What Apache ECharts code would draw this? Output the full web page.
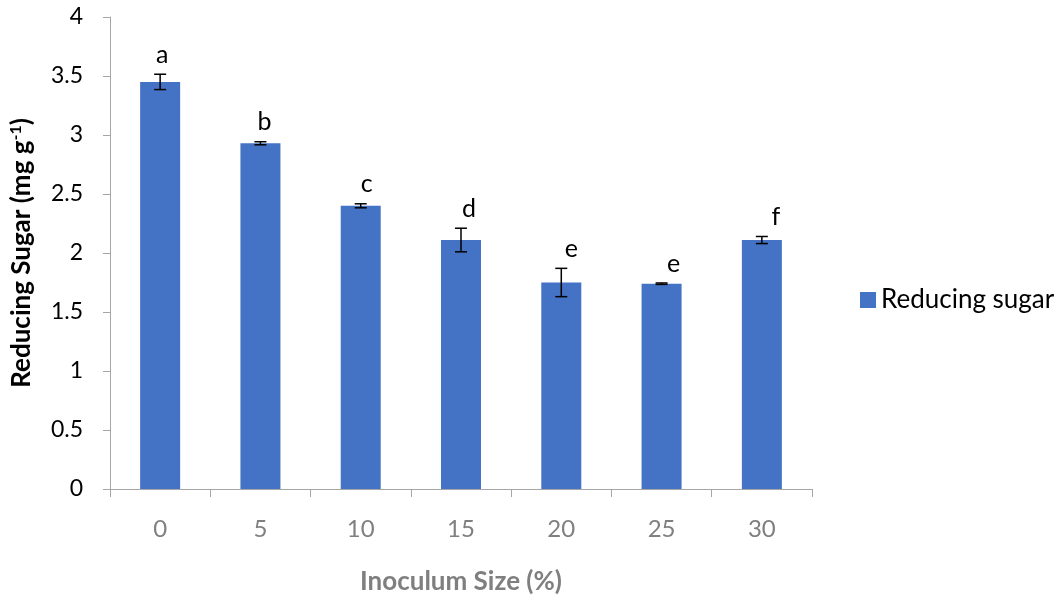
<!DOCTYPE html>
<html>
<head>
<meta charset="utf-8">
<script src="https://cdn.jsdelivr.net/npm/echarts@6/dist/echarts.min.js"></script>
<style>html,body{margin:0;padding:0;background:#fff}#c{width:1060px;height:600px}</style>
</head>
<body>
<div id="c"></div>
<script>
const categories = ['0', '5', '10', '15', '20', '25', '30'];
const reducingSugar = [3.45, 2.93, 2.40, 2.11, 1.75, 1.74, 2.11];
const errors = [0.065, 0.013, 0.017, 0.10, 0.12, 0.006, 0.03];
const letters = ['a', 'b', 'c', 'd', 'e', 'e', 'f'];
const yTicks = [0, 0.5, 1, 1.5, 2, 2.5, 3, 3.5, 4];

const FONT = 'Lato, "Open Sans", sans-serif';
const chart = echarts.init(document.getElementById('c'));

const errData = reducingSugar.map((v, i) => [i, v, errors[i]]);

chart.setOption({
  animation: false,
  textStyle: { fontFamily: FONT },
  grid: { left: 110, right: 248, top: 17, bottom: 111, containLabel: false, outerBoundsMode: 'none' },
  legend: {
    data: ['Reducing sugar'],
    left: 860, top: 'middle',
    padding: 0,
    orient: 'vertical',
    icon: 'rect', itemWidth: 16, itemHeight: 16, itemGap: 6,
    textStyle: { fontSize: 26, color: '#000', fontFamily: FONT }
  },
  xAxis: {
    type: 'category',
    data: categories,
    name: 'Inoculum Size (%)',
    nameLocation: 'middle',
    nameGap: 80,
    nameTextStyle: { fontSize: 26, fontWeight: 'bold', color: '#7f7f7f', fontFamily: FONT },
    axisLine: { lineStyle: { color: '#a6a6a6', width: 1 } },
    axisTick: { show: true, length: 8, lineStyle: { color: '#a6a6a6' } },
    axisLabel: { fontSize: 24, color: '#7f7f7f', margin: 28, fontFamily: FONT }
  },
  yAxis: {
    type: 'value',
    min: 0, max: 4, interval: 0.5,
    name: '{b|Reducing Sugar (mg g}{s|-1}{b|)}',
    nameLocation: 'middle',
    nameGap: 74,
    nameRotate: 90,
    nameTextStyle: {
      rich: {
        b: { fontSize: 26, fontWeight: 'bold', color: '#000', fontFamily: FONT },
        s: { fontSize: 16, fontWeight: 'bold', color: '#000', fontFamily: FONT, verticalAlign: 'top', padding: [0, 0, 12, 0] }
      }
    },
    splitLine: { show: false },
    axisLine: { show: true, lineStyle: { color: '#a6a6a6', width: 1 } },
    axisTick: { show: true, length: 7, lineStyle: { color: '#a6a6a6' } },
    axisLabel: {
      fontSize: 23, color: '#000', margin: 27, fontFamily: FONT,
      formatter: v => (yTicks.indexOf(v) >= 0 ? String(v) : '')
    }
  },
  series: [
    {
      name: 'Reducing sugar',
      type: 'bar',
      data: reducingSugar,
      barWidth: 40,
      itemStyle: { color: '#4472C4' }
    },
    {
      name: 'err',
      type: 'custom',
      data: errData,
      z: 10,
      renderItem: function (params, api) {
        const i = api.value(0), v = api.value(1), e = api.value(2);
        const top = api.coord([i, v + e]);
        const bot = api.coord([i, v - e]);
        const half = 6;
        const style = { stroke: '#000', lineWidth: 1.5 };
        return {
          type: 'group',
          children: [
            { type: 'line', shape: { x1: top[0], y1: top[1], x2: bot[0], y2: bot[1] }, style },
            { type: 'line', shape: { x1: top[0] - half, y1: top[1], x2: top[0] + half, y2: top[1] }, style },
            { type: 'line', shape: { x1: bot[0] - half, y1: bot[1], x2: bot[0] + half, y2: bot[1] }, style },
            {
              type: 'text',
              style: {
                text: letters[params.dataIndex],
                x: top[0] + 2 + params.dataIndex * 2,
                y: top[1] - 7,
                align: 'center', verticalAlign: 'bottom',
                fontSize: 25, fill: '#000', fontFamily: FONT
              }
            }
          ]
        };
      }
    }
  ]
});
</script>
</body>
</html>
